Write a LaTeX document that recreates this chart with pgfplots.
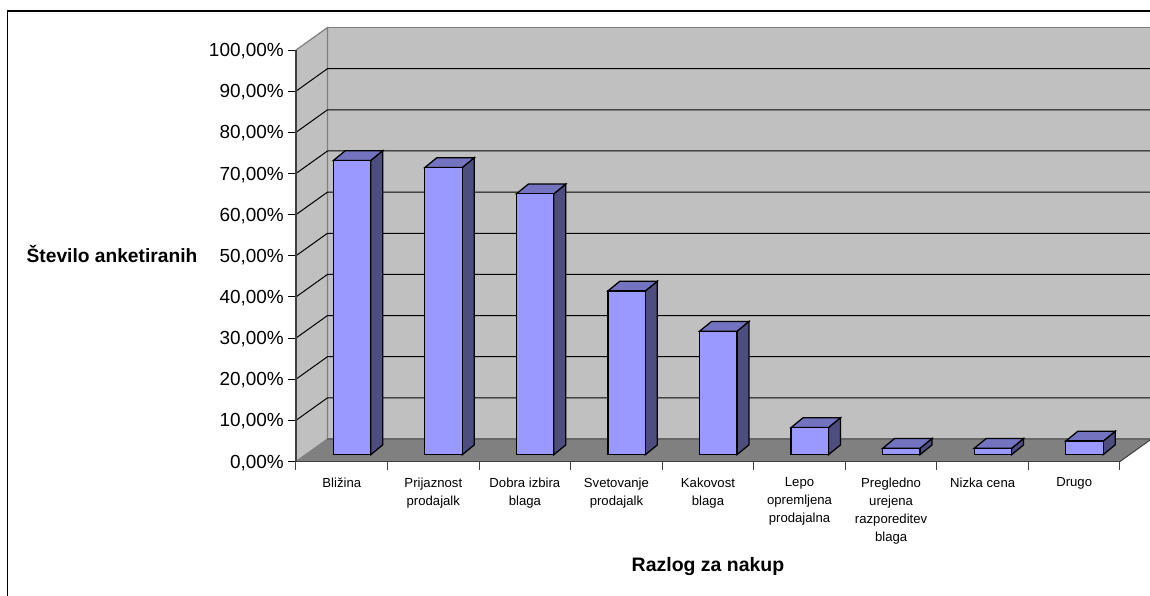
\documentclass[border=0pt]{standalone}
\usepackage{pgfplots}
\pgfplotsset{compat=1.18}
\usepackage{fontspec}
\setmainfont{Liberation Sans}
\definecolor{wallgray}{HTML}{C0C0C0}
\definecolor{floorgray}{HTML}{808080}
\definecolor{edgegray}{HTML}{808080}
\definecolor{axisgray}{HTML}{404040}
\definecolor{barfront}{HTML}{9999FF}
\definecolor{bartop}{HTML}{7373BF}
\definecolor{barside}{HTML}{4D4D80}
% depth of the chart box, in data units
\def\wdx{0.344}
\def\wdy{5.47}
% one column: slot number and percentage
\newcommand{\column}[2]{%
  \pgfmathsetmacro{\xl}{#1+0.4074}%
  \pgfmathsetmacro{\xr}{#1+0.8159}%
  \pgfmathsetmacro{\xlb}{\xl+0.131}%
  \pgfmathsetmacro{\xrb}{\xr+0.131}%
  \pgfmathsetmacro{\yb}{1.65}%
  \pgfmathsetmacro{\yt}{1.65+#2}%
  \pgfmathsetmacro{\ybb}{\yb+2.38}%
  \pgfmathsetmacro{\ytb}{\yt+2.38}%
  \addplot[fill=barside,draw=black,line width=0.95pt] coordinates {(\xr,\yb) (\xrb,\ybb) (\xrb,\ytb) (\xr,\yt)} --cycle;
  \addplot[fill=bartop,draw=black,line width=0.95pt] coordinates {(\xl,\yt) (\xr,\yt) (\xrb,\ytb) (\xlb,\ytb)} --cycle;
  \addplot[fill=barfront,draw=black,line width=0.95pt] coordinates {(\xl,\yb) (\xr,\yb) (\xr,\yt) (\xl,\yt)} --cycle;
}
% one gridline: across the side wall, then the back wall
\newcommand{\gridrow}[1]{%
  \pgfmathsetmacro{\gb}{#1+\wdy}%
  \addplot[black,line width=0.75pt] coordinates {(0,#1) (\wdx,\gb) (9.344,\gb)};
}
\begin{document}
\begin{tikzpicture}[x=0.75pt,y=0.75pt]
\path[clip,use as bounding box] (-296,-134.5) rectangle (854,461.5);
\fill[white] (-296,-134.5) rectangle (854,461.5);
\begin{axis}[
  at={(0,0)},anchor=south west,
  scale only axis,width=618pt,height=308.6pt,
  xmin=0,xmax=9,ymin=0,ymax=100,
  clip=false,axis on top,
  axis x line*=bottom,axis y line*=left,
  axis line style={-,axisgray,line width=1.1pt},
  xtick={0.5,1.5,2.5,3.5,4.5,5.5,6.5,7.5,8.5},
  xticklabels={Bližina,{Prijaznost\\prodajalk},{Dobra izbira\\blaga},{Svetovanje\\prodajalk},{Kakovost\\blaga},{Lepo\\opremljena\\prodajalna},{Pregledno\\urejena\\razporeditev\\blaga},Nizka cena,Drugo},
  major x tick style={draw=none},
  minor xtick={0,1,2,3,4,5,6,7,8,9},
  minor tick length=6pt,
  minor x tick style={axisgray,line width=0.75pt},
  xtick align=outside,ytick align=outside,
  xticklabel style={align=center,anchor=north,inner sep=0pt,yshift=-6pt,font=\fontsize{9.85}{13.5}\selectfont},
  ytick={0,10,20,30,40,50,60,70,80,90,100},
  yticklabels={{0,00\%},{10,00\%},{20,00\%},{30,00\%},{40,00\%},{50,00\%},{60,00\%},{70,00\%},{80,00\%},{90,00\%},{100,00\%}},
  major tick length=6pt,
  ytick style={black,line width=0.75pt},
  yticklabel style={inner sep=0pt,xshift=-3pt,yshift=-0.9pt,font=\fontsize{14.2}{16}\selectfont},
  xlabel={\textbf{Razlog za nakup}},
  ylabel={\textbf{Število anketiranih}},
  every axis x label/.style={at={(axis description cs:0.5,-0.2545)},anchor=center,font=\fontsize{14.6}{17}\selectfont},
  every axis y label/.style={at={(axis description cs:-0.2233,0.505)},anchor=center,font=\fontsize{14.4}{17}\selectfont},
]
% walls and floor of the box
\addplot[fill=wallgray,draw=edgegray,line width=0.9pt] coordinates {(\wdx,\wdy) (9.344,\wdy) (9.344,105.47) (\wdx,105.47)} --cycle;
\addplot[fill=wallgray,draw=edgegray,line width=0.9pt] coordinates {(0,0) (\wdx,\wdy) (\wdx,105.47) (0,100)} --cycle;
\gridrow{10}\gridrow{20}\gridrow{30}\gridrow{40}\gridrow{50}\gridrow{60}\gridrow{70}\gridrow{80}\gridrow{90}
\addplot[fill=floorgray,draw=none] coordinates {(0,0) (9,0) (9.344,\wdy) (\wdx,\wdy)} --cycle;
\addplot[color=axisgray!80,line width=0.9pt] coordinates {(\wdx,\wdy) (9.344,\wdy)};
\addplot[color=axisgray,line width=0.75pt] coordinates {(9,0) (9.344,\wdy)};
% columns, in percent
\column{0}{71.5}
\column{1}{69.8}
\column{2}{63.4}
\column{3}{39.8}
\column{4}{30.0}
\column{5}{6.6}
\column{6}{1.55}
\column{7}{1.55}
\column{8}{3.3}
\end{axis}
% outer chart frame
\draw[black,line width=0.9pt] (-288.7,-140) -- (-288.7,450.5) -- (860,450.5);
\end{tikzpicture}
\end{document}
